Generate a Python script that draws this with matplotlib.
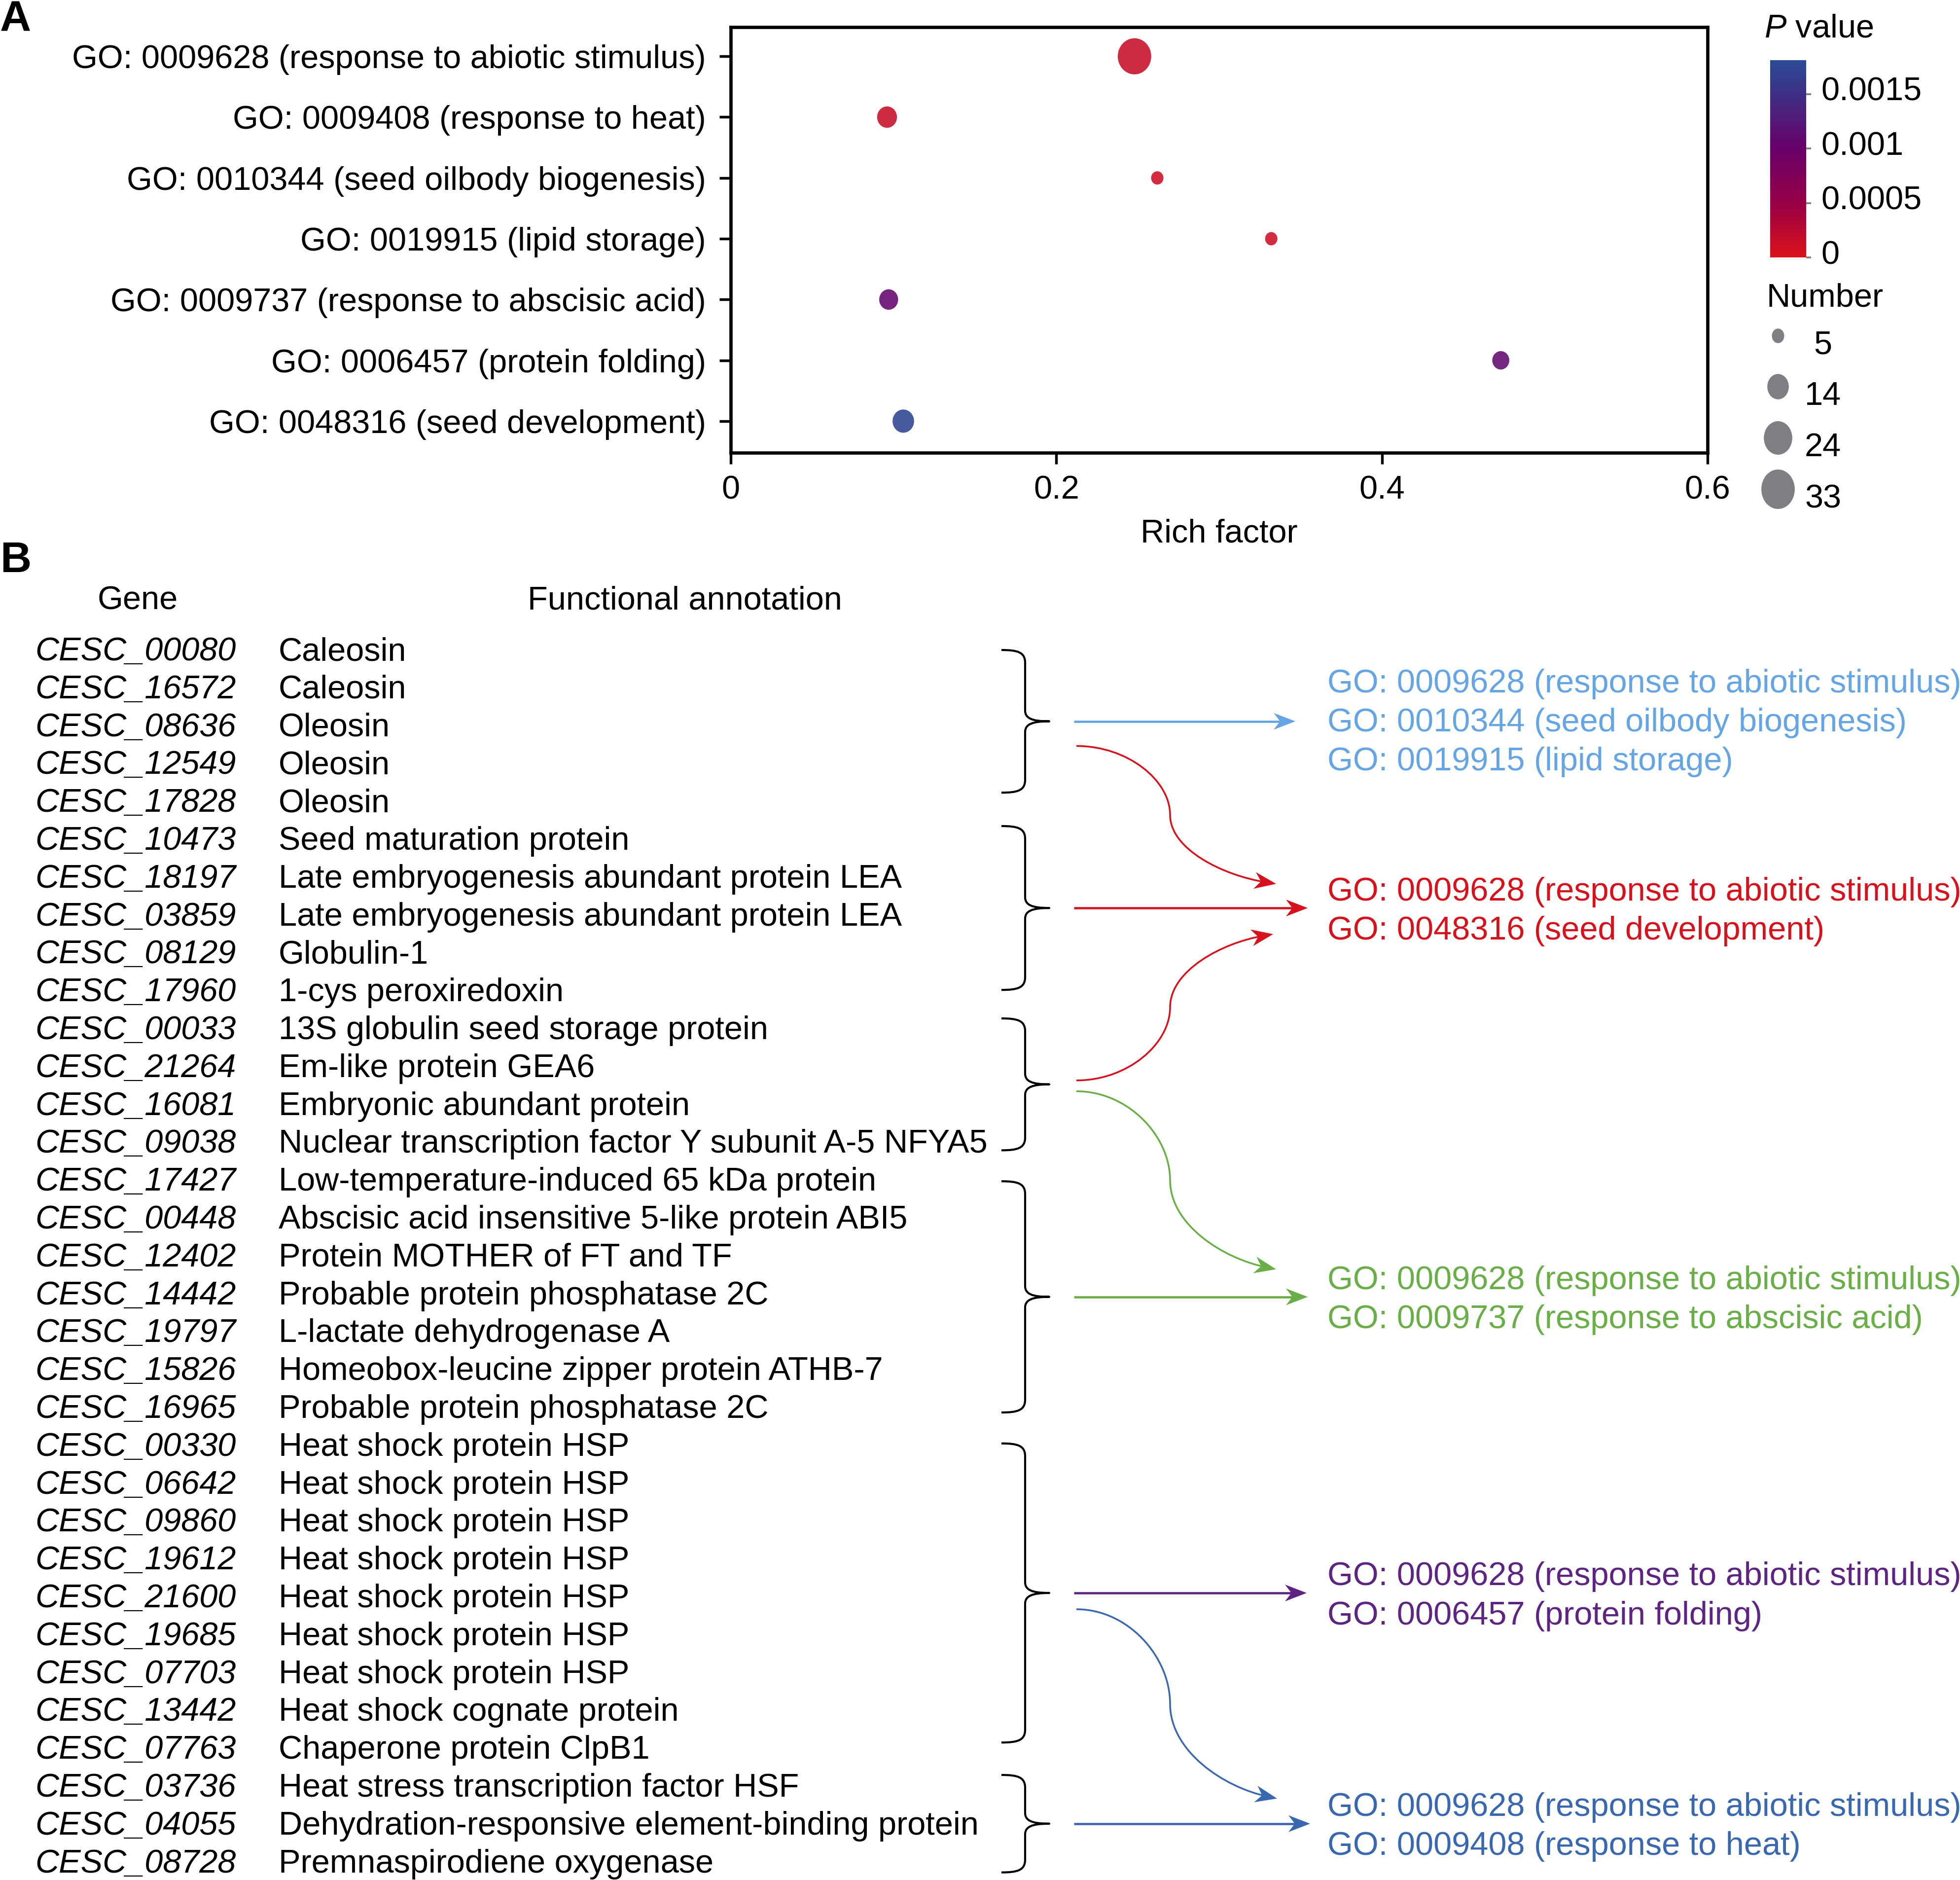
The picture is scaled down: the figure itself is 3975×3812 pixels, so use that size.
import numpy as np
import matplotlib
matplotlib.use("Agg")
import matplotlib.pyplot as plt
from matplotlib.path import Path
from matplotlib.patches import PathPatch, Polygon
from matplotlib.colors import LinearSegmentedColormap, Normalize
from matplotlib.cm import ScalarMappable
from matplotlib.transforms import blended_transform_factory, ScaledTranslation

plt.rcParams['font.family'] = ['Liberation Sans', 'DejaVu Sans']
plt.rcParams['mathtext.fontset'] = 'custom'
plt.rcParams['mathtext.it'] = 'Liberation Sans:italic'
plt.rcParams['mathtext.rm'] = 'Liberation Sans'

# ------------------------- data: panel A -------------------------
go_terms = [
    "GO: 0009628 (response to abiotic stimulus)",
    "GO: 0009408 (response to heat)",
    "GO: 0010344 (seed oilbody biogenesis)",
    "GO: 0019915 (lipid storage)",
    "GO: 0009737 (response to abscisic acid)",
    "GO: 0006457 (protein folding)",
    "GO: 0048316 (seed development)",
]
rich_factor = [0.248, 0.096, 0.262, 0.332, 0.097, 0.473, 0.106]
gene_number = [33, 12, 5, 5, 11, 9, 14]
p_value = [0.00015, 0.00015, 0.0001, 0.0001, 0.00105, 0.0011, 0.00172]
x_ticks = [0, 0.2, 0.4, 0.6]
x_ticklabels = ["0", "0.2", "0.4", "0.6"]
cbar_ticks = [0, 0.0005, 0.001, 0.0015]
cbar_ticklabels = ["0", "0.0005", "0.001", "0.0015"]
p_max = 0.00181
size_legend = [5, 14, 24, 33]

# ------------------------- data: panel B -------------------------
genes = ["CESC_00080", "CESC_16572", "CESC_08636", "CESC_12549", "CESC_17828",
         "CESC_10473", "CESC_18197", "CESC_03859", "CESC_08129", "CESC_17960",
         "CESC_00033", "CESC_21264", "CESC_16081", "CESC_09038",
         "CESC_17427", "CESC_00448", "CESC_12402", "CESC_14442", "CESC_19797",
         "CESC_15826", "CESC_16965",
         "CESC_00330", "CESC_06642", "CESC_09860", "CESC_19612", "CESC_21600",
         "CESC_19685", "CESC_07703", "CESC_13442", "CESC_07763",
         "CESC_03736", "CESC_04055", "CESC_08728"]
annotations = ["Caleosin", "Caleosin", "Oleosin", "Oleosin", "Oleosin",
               "Seed maturation protein",
               "Late embryogenesis abundant protein LEA",
               "Late embryogenesis abundant protein LEA",
               "Globulin-1", "1-cys peroxiredoxin",
               "13S globulin seed storage protein", "Em-like protein GEA6",
               "Embryonic abundant protein",
               "Nuclear transcription factor Y subunit A-5 NFYA5",
               "Low-temperature-induced 65 kDa protein",
               "Abscisic acid insensitive 5-like protein ABI5",
               "Protein MOTHER of FT and TF",
               "Probable protein phosphatase 2C",
               "L-lactate dehydrogenase A",
               "Homeobox-leucine zipper protein ATHB-7",
               "Probable protein phosphatase 2C",
               "Heat shock protein HSP", "Heat shock protein HSP",
               "Heat shock protein HSP", "Heat shock protein HSP",
               "Heat shock protein HSP", "Heat shock protein HSP",
               "Heat shock protein HSP", "Heat shock cognate protein",
               "Chaperone protein ClpB1",
               "Heat stress transcription factor HSF",
               "Dehydration-responsive element-binding protein",
               "Premnaspirodiene oxygenase"]
group_start = [0, 5, 10, 14, 21, 30]
group_end = [4, 9, 13, 20, 29, 32]
target_lines = [
    ["GO: 0009628 (response to abiotic stimulus)",
     "GO: 0010344 (seed oilbody biogenesis)",
     "GO: 0019915 (lipid storage)"],
    ["GO: 0009628 (response to abiotic stimulus)",
     "GO: 0048316 (seed development)"],
    ["GO: 0009628 (response to abiotic stimulus)",
     "GO: 0009737 (response to abscisic acid)"],
    ["GO: 0009628 (response to abiotic stimulus)",
     "GO: 0006457 (protein folding)"],
    ["GO: 0009628 (response to abiotic stimulus)",
     "GO: 0009408 (response to heat)"],
]
# straight link: group index -> target index
straight_group = [0, 1, 3, 4, 5]
# curved links: (group, target)
curve_links = [(0, 1), (2, 1), (2, 2), (4, 4)]

# ------------------------- style -------------------------
W, H, DPI = 3975, 3812, 300
FS = 16
target_colors = ["#66A5E4", "#D6121C", "#69AE47", "#5E2482", "#3968B0"]
target_text_dy = [3, 7, 7, 7, 7]
straight_end_x = [2627, 2652, 2652, 2650, 2657]
brace_top_off = [-4, -31, -25, -2, -8, -27]
brace_bot_off = [-22, -6, 12, 6, -16, 17]
curve_start_dy = [50, -8, 14, 33]
curve_end_dy = [-49, 53, -56, -51]
curve_end_x = [2588, 2582, 2588, 2590]

cmap = LinearSegmentedColormap.from_list(
    "pv", [(0.0, "#DA121A"), (0.276, "#960046"), (0.552, "#690069"),
           (0.829, "#3D2F85"), (1.0, "#2A4B95")])
norm = Normalize(0, p_max)


def ell_marker(ratio):
    c = Path.unit_circle()
    return Path(c.vertices * np.array([1.0, ratio]), c.codes)


def marker_area(n, ratio):
    d_px = np.sqrt(625 + 142 * (np.asarray(n, float) - 5))
    h_pt = d_px * ratio * 72.0 / DPI
    return h_pt ** 2


def frac(x0, y0, x1, y1):
    return [x0 / W, 1 - y1 / H, (x1 - x0) / W, (y1 - y0) / H]


fig = plt.figure(figsize=(W / DPI, H / DPI), dpi=DPI)
ov = fig.add_axes([0, 0, 1, 1])
ov.set_xlim(0, W)
ov.set_ylim(H, 0)
ov.axis('off')

# ------------------------- Panel A -------------------------
ax = fig.add_axes(frac(1482, 55, 3463, 918))
ypos = np.arange(len(go_terms))
ax.scatter(rich_factor, ypos, s=marker_area(gene_number, 1.08),
           c=p_value, cmap=cmap, norm=norm, marker=ell_marker(1.08),
           alpha=0.88, edgecolors='none', zorder=3)
ax.set_xlim(0, 0.6)
ax.set_ylim(len(go_terms) - 1 + 0.52, -0.48)
ax.set_xticks(x_ticks, labels=x_ticklabels)
ax.set_yticks(ypos, labels=go_terms)
for sp in ax.spines.values():
    sp.set_linewidth(1.6)
ax.tick_params(axis='both', direction='out', length=5.5, width=1.3,
               labelsize=FS, color='black')
ax.tick_params(axis='x', pad=5.4)
ax.tick_params(axis='y', pad=6.5)
ov.text(2472, 1083, "Rich factor", ha='center', va='center', fontsize=FS)
ov.text(0, 40, "A", ha='left', va='center', fontsize=21, fontweight='bold')

# colorbar
cax = fig.add_axes(frac(3590, 122, 3663, 522))
cb = fig.colorbar(ScalarMappable(norm=norm, cmap=cmap), cax=cax)
cb.outline.set_visible(False)
cb.set_ticks(cbar_ticks)
cax.tick_params(length=2.4, width=0.9, color='#808080', labelright=False,
                labelleft=False)
lab_tr = blended_transform_factory(cax.transAxes, cax.transData) + \
    ScaledTranslation(30 / DPI, 4 / DPI, fig.dpi_scale_trans)
for t, lab in zip(cbar_ticks, cbar_ticklabels):
    cax.text(1.0, t, lab, transform=lab_tr, ha='left', va='center', fontsize=FS,
             clip_on=False)
ov.text(3578, 58, r"$\mathit{P}$ value", ha='left', va='center', fontsize=FS)

# size legend
ov.text(3582, 605, "Number", ha='left', va='center', fontsize=FS)
leg_y = [681, 784, 888, 992]
ov.scatter([3606] * len(size_legend), leg_y, s=marker_area(size_legend, 1.18),
           marker=ell_marker(1.18), color='#7F7F83', edgecolors='none')
for n, y in zip(size_legend, leg_y):
    ov.text(3697, y + 20, str(n), ha='center', va='center', fontsize=FS)

# ------------------------- Panel B -------------------------
ov.text(0, 1137, "B", ha='left', va='center', fontsize=21, fontweight='bold')
ov.text(279, 1218, "Gene", ha='center', va='center', fontsize=FS)
ov.text(1389, 1218, "Functional annotation", ha='center', va='center', fontsize=FS)

row0, dy = 1322, 76.8


def row_y(i):
    return row0 + dy * i


for i, (g, a) in enumerate(zip(genes, annotations)):
    ov.text(71, row_y(i), g, ha='left', va='center', fontsize=FS, fontstyle='italic')
    ov.text(565, row_y(i), a, ha='left', va='center', fontsize=FS)

# braces
X0, X1, X2 = 2031, 2079, 2128
tips = []
for s, e, to, bo in zip(group_start, group_end, brace_top_off, brace_bot_off):
    top = row_y(s) + to
    bot = row_y(e) + bo
    tip = (top + bot) / 2
    tips.append(tip)
    verts = [(X0, top), (X0 + 32, top), (X1, top + 4), (X1, top + 26),
             (X1, tip - 22),
             (X1, tip - 6), (X1 + 14, tip), (X2, tip),
             (X1 + 14, tip), (X1, tip + 6), (X1, tip + 22),
             (X1, bot - 26),
             (X1, bot - 4), (X0 + 32, bot), (X0, bot)]
    codes = [Path.MOVETO, Path.CURVE4, Path.CURVE4, Path.CURVE4,
             Path.LINETO,
             Path.CURVE4, Path.CURVE4, Path.CURVE4,
             Path.CURVE4, Path.CURVE4, Path.CURVE4,
             Path.LINETO,
             Path.CURVE4, Path.CURVE4, Path.CURVE4]
    ov.add_patch(PathPatch(Path(verts, codes), fill=False, ec='black', lw=1.0,
                           capstyle='butt', joinstyle='round'))


def head(tx, ty, ux, uy, color, L=44, hw=17, notch=31):
    nrm = np.hypot(ux, uy)
    ux, uy = ux / nrm, uy / nrm
    px, py = -uy, ux
    pts = [(tx, ty),
           (tx - ux * L + px * hw, ty - uy * L + py * hw),
           (tx - ux * notch, ty - uy * notch),
           (tx - ux * L - px * hw, ty - uy * L - py * hw)]
    ov.add_patch(Polygon(pts, closed=True, fc=color, ec='none', zorder=4))


# target text blocks and straight arrows
arrow_y = [tips[g] for g in straight_group]
for k, lines in enumerate(target_lines):
    col = target_colors[k]
    ya = arrow_y[k]
    nl = len(lines)
    for j, ln in enumerate(lines):
        ov.text(2692, ya + target_text_dy[k] + (j - (nl - 1) / 2) * 79, ln,
                ha='left', va='center', fontsize=FS, color=col)
    xe = straight_end_x[k]
    ov.plot([2178, xe - 20], [ya, ya], color=col, lw=1.1, solid_capstyle='butt')
    head(xe, ya, 1, 0, col)

# curved arrows
XM = 2373
for (g, t), sdy, edy, ex in zip(curve_links, curve_start_dy, curve_end_dy, curve_end_x):
    col = target_colors[t]
    xs, ys = 2183, tips[g] + sdy
    tx, ty = ex, arrow_y[t] + edy
    my = (ys + ty) / 2
    c4 = (XM + 0.5 * (tx - XM), ty - 0.12 * (ty - my))
    ux, uy = tx - c4[0], ty - c4[1]
    nrm = np.hypot(ux, uy)
    ex_, ey_ = tx - 20 * ux / nrm, ty - 20 * uy / nrm
    verts = [(xs, ys), (xs + 0.55 * (XM - xs), ys), (XM, ys + 0.5 * (my - ys)), (XM, my),
             (XM, my + 0.5 * (ty - my)), c4, (ex_, ey_)]
    codes = [Path.MOVETO] + [Path.CURVE4] * 6
    ov.add_patch(PathPatch(Path(verts, codes), fill=False, ec=col, lw=0.85))
    head(tx, ty, ux, uy, col)

fig.savefig("out.png", dpi=DPI)
